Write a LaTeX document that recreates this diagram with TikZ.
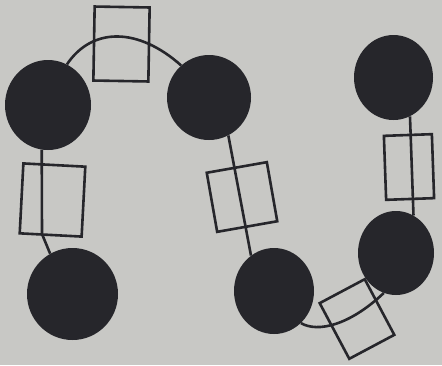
\documentclass[tikz,border=0pt]{standalone}
\usetikzlibrary{shapes.geometric}
\definecolor{paper}{RGB}{200,200,197}
\definecolor{ink}{RGB}{38,38,43}

\begin{document}
\begin{tikzpicture}[x=1pt, y=-1pt,
    bead/.style={ellipse, fill=ink, inner sep=0pt},
    tag/.style={rectangle, draw=ink, line width=2.6pt, inner sep=0pt},
    link/.style={draw=ink, line width=2.6pt}
]
    % Background sheet
    \fill[paper] (0,0) rectangle (442,365);

    % Beads
    \node[bead, minimum width=86pt, minimum height=90pt] (bead_a) at (48,105) {};
    \node[bead, minimum width=84pt, minimum height=85pt] (bead_b) at (209,97.5) {};
    \node[bead, minimum width=79pt, minimum height=85pt] (bead_c) at (393.5,77.5) {};
    \node[bead, minimum width=91pt, minimum height=92pt] (bead_d) at (72.5,294) {};
    \node[bead, minimum width=80pt, minimum height=86pt] (bead_e) at (274,291) {};
    \node[bead, minimum width=76pt, minimum height=84pt] (bead_f) at (396,253) {};

    % Links between beads
    \draw[link] (bead_a.65) .. controls (92,27) and (138,27) .. (bead_b.131);
    \coordinate (kink_ad) at (42,234);
    \draw[link] (bead_a.262) -- (kink_ad) -- (bead_d.119);
    \draw[link] (bead_b.297) -- (bead_e.123);
    \draw[link] (bead_c.293) -- (bead_f.65);
    \draw[link] (bead_e.310) .. controls (318,333) and (350,325) .. (bead_f.253);

    % Tags on the links
    \node[tag, minimum width=55pt, minimum height=74pt, rotate=-1] (tag_ab) at (121.5,44) {};
    \node[tag, minimum width=62pt, minimum height=70pt, rotate=-3] (tag_ad) at (52.5,200) {};
    \node[tag, minimum width=61pt, minimum height=60pt, rotate=10] (tag_be) at (242,197) {};
    \node[tag, minimum width=48pt, minimum height=64pt, rotate=2] (tag_cf) at (409,167) {};
    \node[tag, minimum width=51pt, minimum height=63pt, rotate=28] (tag_ef) at (357,319) {};
\end{tikzpicture}
\end{document}
